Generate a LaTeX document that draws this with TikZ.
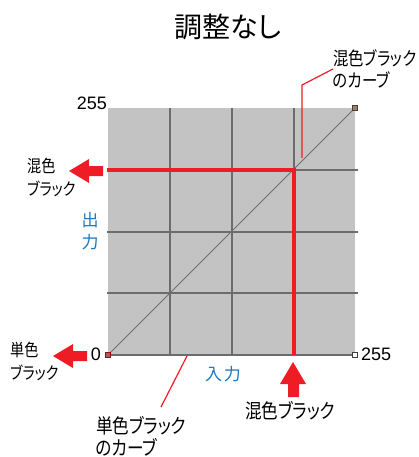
\documentclass[tikz,border=0pt]{standalone}
\usepackage{fontspec}
\setmainfont{Noto Sans CJK JP}[RawFeature={+palt}]
\newfontfamily\lblfont{Noto Sans CJK JP}[RawFeature={+palt}, FakeStretch=0.83]
\newfontfamily\numfont{Liberation Sans}
\definecolor{redA}{HTML}{EE1C25}
\definecolor{blueA}{HTML}{1C78C0}
\definecolor{gridbg}{HTML}{C3C3C3}
\definecolor{gridln}{HTML}{6C6C6C}
\definecolor{diagln}{HTML}{707070}
\begin{document}
\begin{tikzpicture}[x=1pt,y=-1pt,
  lbl/.style={font=\lblfont\fontsize{20}{22}\selectfont, align=left, inner sep=0pt, anchor=west},
  lblsmall/.style={lbl, font=\lblfont\fontsize{17}{23}\selectfont},
  num/.style={font=\numfont\fontsize{18}{18}\selectfont, inner sep=0pt},
  axislbl/.style={font=\fontsize{17}{22}\selectfont, text=blueA, inner sep=0pt, align=center},
  bigarrow/.style={fill=redA, draw=none},
  leader/.style={draw=redA, line width=1.2pt},
  redline/.style={draw=redA, line width=4pt, line join=miter},
  gridline/.style={draw=gridln, line width=1.5pt},
  marker/.style={draw=black!75, line width=0.8pt},
]
\useasboundingbox (0,0) rectangle (419,457);
% chart area
\fill[gridbg] (108,108) rectangle (355,355);
\foreach \g in {170,232,294} {
  \draw[gridline] (\g,108) -- (\g,355);
}
\foreach \g in {170,232,293} {
  \draw[gridline] (107,\g) -- (358,\g);
}
\draw[gridline] (108,355) -- (356,355);
\draw[diagln, line width=1pt] (108,355) -- (355,108);
% end markers
\draw[marker, fill=brown!60!gray] (352.5,105.5) rectangle (357.5,110.5);
\draw[marker, draw=redA!60!black, fill=redA!40!gray] (105.5,352.5) rectangle (110.5,357.5);
\draw[marker, fill=white] (352,352.5) rectangle (357,357.5);
% red lines
\draw[redline] (107,170) -- (294,170) -- (294,355);
% big arrows
\fill[bigarrow] (69,171) -- (89,159) -- (89,166) -- (103,166) -- (103,176) -- (89,176) -- (89,183) -- cycle;
\fill[bigarrow] (53,356) -- (73,344) -- (73,351) -- (87,351) -- (87,361) -- (73,361) -- (73,368) -- cycle;
\fill[bigarrow] (293,362) -- (306,384) -- (299,384) -- (299,397) -- (288,397) -- (288,384) -- (280,384) -- cycle;
% texts
\node[inner sep=0pt, font=\fontsize{28}{28}\selectfont] (title) at (228,27) {調整なし};
\node[lbl, font=\lblfont\fontsize{18.5}{22}\selectfont] (trlbl) at (333,69) {混色ブラック\\のカーブ};
\node[num, anchor=east] (n255t) at (107,103) {255};
\node[lblsmall] (lmix) at (27,177) {混色\\ブラック};
\node[axislbl] (outlbl) at (90,231) {出\\力};
\node[num, anchor=east] (n0) at (101,354) {0};
\node[num, anchor=west] (n255r) at (361,354) {255};
\node[lblsmall] (lmono) at (10,361) {単色\\ブラック};
\node[axislbl] (inlbl) at (223,374) {入\hspace{2pt}力};
\node[lbl] (bmix) at (245,411) {混色ブラック};
\node[lbl] (bmono) at (96,436) {単色ブラック\\のカーブ};
% leader lines
\coordinate (trtip) at (302,158);
\coordinate (trbend) at (302,85);
\draw[leader] (trtip) -- (trbend) -- (trlbl.west);
\coordinate (bltip) at (187,356);
\coordinate (blend) at (161,407);
\draw[leader] (bltip) -- (blend);
\end{tikzpicture}
\end{document}
